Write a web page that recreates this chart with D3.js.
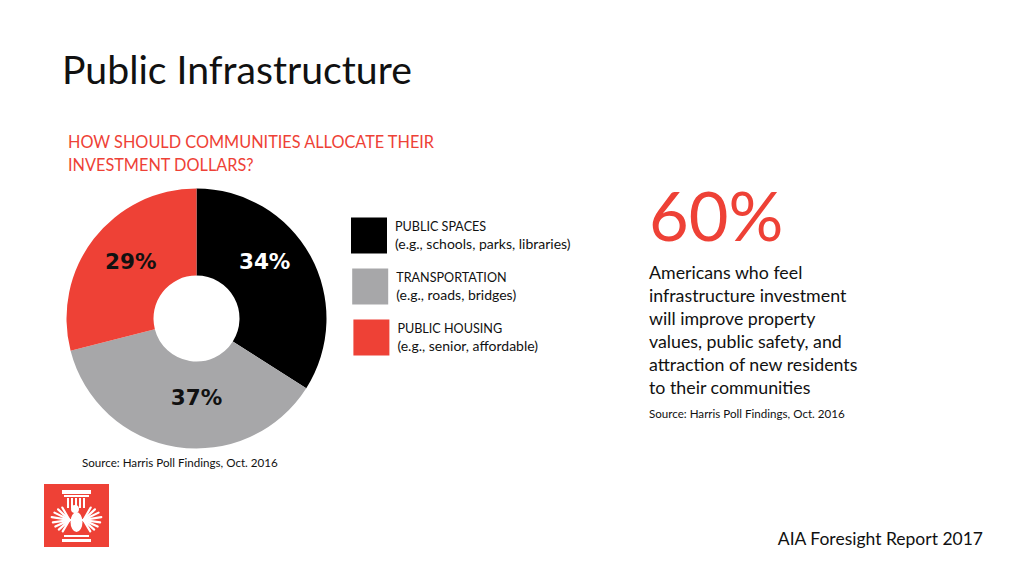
<!DOCTYPE html>
<html><head><meta charset="utf-8">
<script src="https://cdn.jsdelivr.net/npm/d3@7"></script>
<style>
body{margin:0;background:#fff;}
text{font-family:Lato,"Open Sans",sans-serif;}
</style></head>
<body><svg id="c" width="1024" height="576"></svg>
<script>
// ---- data ----
const categories = ["PUBLIC SPACES", "TRANSPORTATION", "PUBLIC HOUSING"];
const examples = ["(e.g., schools, parks, libraries)", "(e.g., roads, bridges)", "(e.g., senior, affordable)"];
const values = [34, 37, 29];
const sliceColors = ["#000000", "#a7a7a9", "#ee4136"];
const labelColors = ["#ffffff", "#111111", "#111111"];
const title = "Public Infrastructure";
const subtitleLines = ["HOW SHOULD COMMUNITIES ALLOCATE THEIR", "INVESTMENT DOLLARS?"];
const bigStat = "60%";
const statLines = ["Americans who feel", "infrastructure investment", "will improve property",
  "values, public safety, and", "attraction of new residents", "to their communities"];
const sourceText = "Source: Harris Poll Findings, Oct. 2016";
const footer = "AIA Foresight Report 2017";

// ---- layout ----
const labelAngles = [50, 180, 311];   // degrees, clockwise from top
const labelRadii = [89, 79, 87];

const svg = d3.select("#c");
const red = "#ee4136";

svg.append("text").attr("x", 62).attr("y", 84).attr("font-size", 39.2).attr("fill", "#111").text(title);

svg.selectAll(".sub").data(subtitleLines).join("text")
  .attr("x", 68).attr("y", (d, i) => 148 + i * 23)
  .attr("font-size", 16.3).attr("fill", red).text(d => d);

// donut
const cx = 196.5, cy = 318.5;
const g = svg.append("g").attr("transform", `translate(${cx},${cy})`);
const pie = d3.pie().sort(null).value(d => d)(values);
const arc = d3.arc().innerRadius(43).outerRadius(130);
g.selectAll("path").data(pie).join("path")
  .attr("d", arc).attr("fill", (d, i) => sliceColors[i]);
g.selectAll(".lbl").data(pie).join("text")
  .attr("x", (d, i) => labelRadii[i] * Math.sin(labelAngles[i] * Math.PI / 180))
  .attr("y", (d, i) => -labelRadii[i] * Math.cos(labelAngles[i] * Math.PI / 180))
  .attr("dy", "0.36em").attr("text-anchor", "middle")
  .style("font-family", "'DejaVu Sans',sans-serif").attr("font-weight", "bold")
  .attr("font-size", 21.5).attr("fill", (d, i) => labelColors[i])
  .text(d => d.data + "%");

// legend
const lg = svg.append("g");
const items = lg.selectAll("g").data(categories).join("g")
  .attr("transform", (d, i) => `translate(${351 + i * 1.2},${217.5 + i * 51})`);
items.append("rect").attr("width", 36).attr("height", 36).attr("fill", (d, i) => sliceColors[i]);
items.append("text").attr("x", 44).attr("y", 13.5).attr("font-size", 12.6).attr("fill", "#111").text(d => d);
items.append("text").attr("x", 44).attr("y", 31).attr("font-size", 14).attr("fill", "#111").text((d, i) => examples[i]);

svg.append("text").attr("x", 82).attr("y", 467).attr("font-size", 11.6).attr("fill", "#111").text(sourceText);

// stat
svg.append("text").attr("x", 649).attr("y", 241).attr("font-size", 68.5).attr("fill", red).text(bigStat);
svg.selectAll(".st").data(statLines).join("text")
  .attr("x", 649).attr("y", (d, i) => 279 + i * 23)
  .attr("font-size", 17.8).attr("fill", "#111").text(d => d);
svg.append("text").attr("x", 649).attr("y", 418).attr("font-size", 11.6).attr("fill", "#111").text(sourceText);

svg.append("text").attr("x", 983).attr("y", 545).attr("text-anchor", "end")
  .attr("font-size", 17.5).attr("fill", "#111").text(footer);

// logo
const logo = svg.append("g").attr("transform", "translate(44,484)");
logo.append("rect").attr("width", 65).attr("height", 63).attr("fill", red);
const w = "#fff";
logo.append("rect").attr("x", 18).attr("y", 6).attr("width", 29).attr("height", 4).attr("fill", w);
logo.append("rect").attr("x", 20).attr("y", 11).attr("width", 25).attr("height", 2).attr("fill", w);
for (let k = 0; k < 5; k++) logo.append("rect").attr("x", 23 + k * 4).attr("y", 14).attr("width", 2).attr("height", 10).attr("fill", w);
logo.append("rect").attr("x", 18).attr("y", 55).attr("width", 29).attr("height", 3).attr("fill", w);
logo.append("rect").attr("x", 20).attr("y", 51).attr("width", 25).attr("height", 2).attr("fill", w);
// eagle body
logo.append("ellipse").attr("cx", 32.5).attr("cy", 38).attr("rx", 6).attr("ry", 10).attr("fill", w);
logo.append("circle").attr("cx", 31).attr("cy", 25).attr("r", 4).attr("fill", w);
// wing feathers
d3.range(0, 8).forEach(k => {
  [-1, 1].forEach(s => {
    const y1 = 36;
    const len = 18 - Math.abs(k - 3) * 1.2;
    const ang = (-60 + k * 17) * Math.PI / 180;
    logo.append("line")
      .attr("x1", 32.5 + s * 7).attr("y1", y1)
      .attr("x2", 32.5 + s * (7 + len * Math.cos(ang))).attr("y2", y1 + len * Math.sin(ang))
      .attr("stroke", w).attr("stroke-width", 2.2).attr("stroke-linecap", "round");
  });
});
</script></body></html>
